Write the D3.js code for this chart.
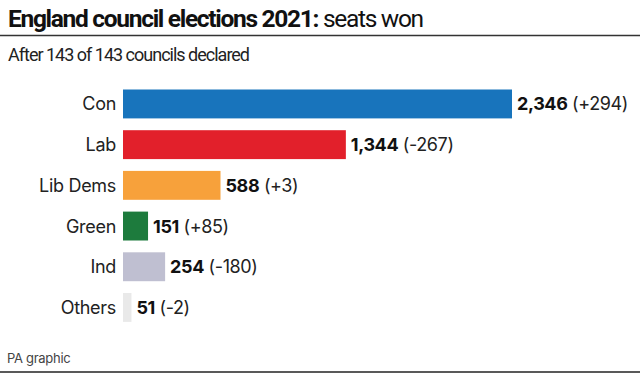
<!doctype html>
<html>
    <head>
        <meta charset="utf-8">
        <title>England council elections 2021</title>
        <script src="https://d3js.org/d3.v7.min.js"></script>
        <style>
            body { margin: 0; background: #fff; }
            text { font-family: Inter, "Noto Sans", sans-serif; }
            .head { font-family: Roboto, Inter, sans-serif; }
        </style>
    </head>

    <body>
        <div id="my_dataviz"></div>
        <script>
            // data
            var parties = ["Con", "Lab", "Lib Dems", "Green", "Ind", "Others"];
            var seats = [2346, 1344, 588, 151, 254, 51];
            var changes = ["+294", "-267", "+3", "+85", "-180", "-2"];
            var colours = ["#1874bc", "#e2202b", "#f7a13b", "#1d7b3d", "#bfbfd1", "#e9e9e9"];

            var width = 640, height = 374;

            var svg = d3.select("#my_dataviz")
            .append("svg")
                .attr("width", width)
                .attr("height", height);

            // title
            var title = svg.append("text")
                .attr("class", "head")
                .attr("x", 8)
                .attr("y", 27)
                .attr("font-size", 24.5)
                .attr("letter-spacing", -1.3)
                .attr("fill", "#111");
            title.append("tspan").attr("font-weight", 700).text("England council elections 2021:");
            title.append("tspan").attr("font-weight", 400).text(" seats won");

            svg.append("line")
                .attr("x1", 0).attr("x2", width)
                .attr("y1", 35.5).attr("y2", 35.5)
                .attr("stroke", "#333")
                .attr("stroke-width", 1.5);

            svg.append("text")
                .attr("class", "head")
                .attr("x", 8)
                .attr("y", 61)
                .attr("font-size", 18)
                .attr("letter-spacing", -1)
                .attr("fill", "#222")
                .text("After 143 of 143 councils declared");

            // scales
            var x = d3.scaleLinear()
                .domain([0, 2346])
                .range([123, 512]);

            var y = d3.scaleBand()
                .domain(parties)
                .range([83.6, 327.8])
                .paddingInner(0.29)
                .paddingOuter(0.145);

            var rows = parties.map(function(p, i) {
                return {party: p, seats: seats[i], change: changes[i], colour: colours[i]};
            });

            // bars
            svg.selectAll("rect.bar")
                .data(rows)
                .enter()
                .append("rect")
                    .attr("class", "bar")
                    .attr("x", x(0))
                    .attr("y", function(d) { return y(d.party); })
                    .attr("width", function(d) { return x(d.seats) - x(0); })
                    .attr("height", y.bandwidth())
                    .attr("fill", function(d) { return d.colour; });

            // party names
            svg.selectAll("text.party")
                .data(rows)
                .enter()
                .append("text")
                    .attr("class", "party")
                    .attr("x", x(0) - 7)
                    .attr("y", function(d) { return y(d.party) + y.bandwidth() / 2 + 6.5; })
                    .attr("text-anchor", "end")
                    .attr("font-size", 18)
                    .attr("letter-spacing", -0.3)
                    .attr("fill", "#222")
                    .text(function(d) { return d.party; });

            // values
            var vals = svg.selectAll("text.value")
                .data(rows)
                .enter()
                .append("text")
                    .attr("class", "value")
                    .attr("x", function(d) { return x(d.seats) + 5; })
                    .attr("y", function(d) { return y(d.party) + y.bandwidth() / 2 + 6.5; })
                    .attr("font-size", 18)
                    .attr("letter-spacing", -0.4)
                    .attr("fill", "#111");
            vals.append("tspan")
                .attr("font-weight", 700)
                .text(function(d) { return d3.format(",")(d.seats); });
            vals.append("tspan")
                .attr("font-weight", 400)
                .attr("fill", "#222")
                .text(function(d) { return " (" + d.change + ")"; });

            // footer
            svg.append("text")
                .attr("x", 7)
                .attr("y", 363)
                .attr("font-size", 13)
                .attr("letter-spacing", -0.3)
                .attr("fill", "#444")
                .text("PA graphic");

            svg.append("line")
                .attr("x1", 0).attr("x2", width)
                .attr("y1", 372).attr("y2", 372)
                .attr("stroke", "#222")
                .attr("stroke-width", 1.5);
        </script>
    </body>
</html>
